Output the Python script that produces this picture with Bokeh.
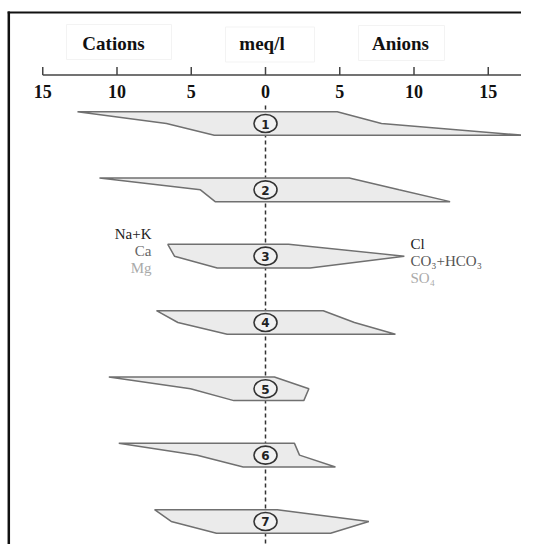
from bokeh.plotting import figure
from bokeh.models import Range1d
from bokeh.core.properties import value
from bokeh.embed import file_html
from bokeh.resources import INLINE

# ---- data (meq/l) ----
samples = ["1", "2", "3", "4", "5", "6", "7"]
na_k = [12.66, 11.18, 6.58, 7.34, 10.55, 9.88, 7.47]
ca = [6.67, 4.38, 6.13, 5.90, 5.05, 4.60, 6.35]
mg = [3.45, 3.39, 3.25, 2.58, 2.13, 1.50, 3.30]
cl = [4.83, 5.64, 1.55, 3.89, 0.60, 1.95, 0.79]
hco3 = [7.81, 9.00, 9.35, 5.99, 2.92, 2.29, 6.96]
so4 = [17.37, 12.43, 3.00, 8.75, 2.58, 4.71, 4.38]

tick_values = [-15, -10, -5, 0, 5, 10, 15]
tick_labels = ["15", "10", "5", "0", "5", "10", "15"]
headers = ["Cations", "meq/l", "Anions"]
cation_names = ["Na+K", "Ca", "Mg"]
anion_names = ["Cl", "CO\u2083+HCO\u2083", "SO\u2084"]

W, H = 521, 544
PX = 14.85            # pixels per meq/l
X0 = 265.0            # canvas x of zero


def dx(px):
    """canvas pixel -> data x"""
    return (px - X0) / PX


p = figure(width=W, height=H, output_backend="svg", toolbar_location=None,
           x_range=Range1d(dx(0), dx(W)), y_range=Range1d(H, 0),
           min_border=0, outline_line_color=None)
p.axis.visible = False
p.grid.visible = False
p.background_fill_color = "white"
p.border_fill_color = "white"

serif = value("Liberation Serif")

# frame border (top and left)
p.segment(x0=[dx(7.2)], y0=[12], x1=[dx(W + 5)], y1=[12], line_color="#111111", line_width=2.2)
p.segment(x0=[dx(8.3)], y0=[11], x1=[dx(8.3)], y1=[H + 5], line_color="#111111", line_width=2.5)

# header boxes and labels
hx = [dx(118.5), dx(269.5), dx(401)]
hw = [105 / PX, 89 / PX, 86 / PX]
hy = [41.5, 44, 42.5]
p.rect(x=hx, y=hy, width=hw, height=35, fill_color=None, line_color="#f3f3f3", line_width=1)
p.text(x=[dx(113), dx(261.5), dx(400)], y=[43, 43, 43], text=headers, text_font=serif,
       text_font_style="bold", text_font_size="19px", text_align="center",
       text_baseline="middle", text_color="#111111")

# top axis (drawn with the data scale)
p.segment(x0=[tick_values[0]], y0=[74.5], x1=[17.4], y1=[74.5], line_color="#444444", line_width=1.5)
p.segment(x0=tick_values, y0=[66.5] * 7, x1=tick_values, y1=[74.5] * 7, line_color="#444444", line_width=1.5)
p.text(x=tick_values, y=[91] * 7, text=tick_labels, text_font=serif, text_font_style="bold",
       text_font_size="18px", text_align="center", text_baseline="middle", text_color="#111111")

# zero line
p.segment(x0=[0], y0=[105], x1=[0], y1=[H], line_color="#333333", line_width=1.5, line_dash="4 3")

# stiff polygons
c0, step, half = 123.0, 66.33, 11.8
centers = [c0 + i * step for i in range(len(samples))]
xs, ys = [], []
for i, c in enumerate(centers):
    xs.append([-na_k[i], -ca[i], -mg[i], so4[i], hco3[i], cl[i]])
    ys.append([c - half, c, c + half, c + half, c, c - half])
p.patches(xs=xs, ys=ys, fill_color="#ebebeb", line_color="#707070", line_width=1.5)

# sample markers
p.ellipse(x=[0] * len(samples), y=centers, width=23 / PX, height=18,
          fill_color="#f2f2f2", line_color="#333333", line_width=1.6)
p.text(x=[0] * len(samples), y=[c + 0.5 for c in centers], text=samples, text_font=value("DejaVu Sans"),
       text_font_style="bold", text_font_size="12px", text_align="center",
       text_baseline="middle", text_color="#222222")

# ion legend
p.text(x=[dx(151)] * 3, y=[233, 250.5, 267.5], text=cation_names, text_font=serif,
       text_font_size="15px", text_align="right", text_baseline="middle",
       text_color=["#222222", "#666666", "#aaaaaa"])
p.text(x=[dx(410)] * 3, y=[243, 260, 277], text=anion_names, text_font=serif,
       text_font_size="15px", text_align="left", text_baseline="middle",
       text_color=["#222222", "#555555", "#aaaaaa"])

open("out.html", "w").write(file_html(p, INLINE))
